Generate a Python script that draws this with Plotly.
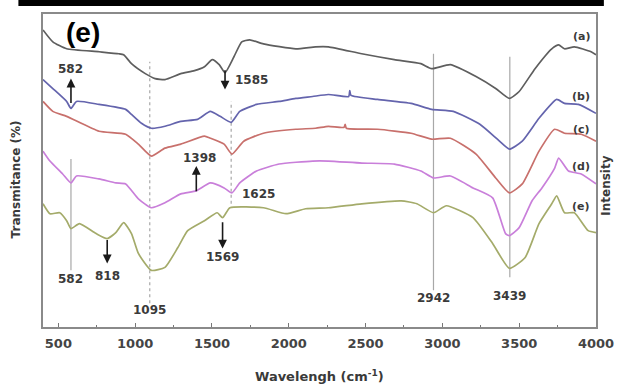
import plotly.graph_objects as go

# FTIR spectra, wavenumber (cm-1) vs. offset transmittance (a.u.)
wn_a = [400, 464, 554, 765, 893, 925, 976, 1066, 1130, 1194, 1297, 1386, 1451, 1502, 1547, 1585,
        1643, 1694, 1745, 1835, 2046, 2174, 2258, 2475, 2687, 2860, 2930, 3052, 3219, 3347, 3436,
        3500, 3603, 3712, 3757, 3795, 3859, 3968, 4000]
t_a = [299, 287, 280, 277, 275, 274, 265, 255, 250, 249, 255, 258, 262, 269, 264, 256,
       272, 287, 289, 285, 280, 282, 282, 275, 269, 265, 260, 264, 252, 240, 230,
       237, 260, 280, 284, 280, 282, 277, 274]

wn_b = [400, 464, 554, 582, 618, 765, 938, 976, 1041, 1105, 1194, 1297, 1406, 1489, 1553, 1625,
        1681, 1790, 1937, 2046, 2155, 2258, 2390, 2397, 2405, 2578, 2796, 2930, 3071, 3244, 3372,
        3436, 3520, 3629, 3744, 3795, 3885, 4000]
t_b = [249, 240, 227, 220, 227, 224, 219, 214, 205, 200, 202, 207, 209, 217, 212, 206,
       217, 224, 227, 230, 232, 234, 232, 238, 233, 229, 225, 219, 217, 204, 187,
       179, 187, 210, 229, 225, 224, 215]

wn_c = [400, 464, 554, 765, 938, 1021, 1105, 1194, 1297, 1451, 1489, 1579, 1630, 1707, 1835,
        2046, 2174, 2258, 2360, 2367, 2375, 2578, 2796, 2930, 3052, 3219, 3347, 3436, 3520,
        3629, 3731, 3795, 3904, 4000]
t_c = [227, 217, 212, 197, 194, 184, 172, 180, 184, 192, 190, 184, 174, 187, 195,
       199, 200, 202, 201, 204, 200, 199, 195, 189, 190, 174, 150, 135, 144,
       177, 199, 195, 194, 187]

wn_d = [400, 445, 528, 582, 618, 765, 874, 938, 1021, 1105, 1194, 1297, 1398, 1489, 1579, 1630,
        1681, 1790, 1937, 2155, 2258, 2475, 2687, 2860, 2942, 3052, 3199, 3327, 3411, 3436,
        3500, 3584, 3648, 3731, 3757, 3821, 3904, 4000]
t_d = [177, 167, 154, 145, 152, 149, 145, 144, 129, 120, 125, 134, 137, 145, 140, 135,
       145, 157, 164, 167, 167, 165, 164, 157, 150, 152, 140, 130, 94, 92,
       100, 127, 140, 160, 170, 157, 154, 144]

wn_e = [400, 445, 509, 554, 582, 637, 746, 818, 874, 925, 976, 1021, 1105, 1194, 1278, 1342,
        1451, 1534, 1569, 1617, 1835, 1982, 2110, 2258, 2475, 2732, 2834, 2942, 3026, 3199,
        3327, 3436, 3539, 3629, 3712, 3744, 3795, 3859, 3949, 4000]
t_e = [124, 114, 115, 107, 99, 104, 94, 89, 95, 105, 94, 74, 57, 60, 80, 97,
       107, 115, 110, 120, 120, 114, 119, 120, 124, 127, 124, 115, 122, 110,
       84, 59, 70, 104, 124, 132, 115, 115, 97, 95]

series = [
    ("(a)", wn_a, t_a, "#5e5e5e"),
    ("(b)", wn_b, t_b, "#6464ad"),
    ("(c)", wn_c, t_c, "#c8706c"),
    ("(d)", wn_d, t_d, "#c97fda"),
    ("(e)", wn_e, t_e, "#a4ab6a"),
]
# curve tags at the right end of each trace
tag_wn = [3904, 3904, 3904, 3904, 3904]
tag_t = [292, 232, 199, 162, 121]

# vertical guide lines: wavenumber, lower and upper extent, dash
guide_wn = [582, 1095, 1625, 2942, 3439]
guide_lo = [57, 24, 124, 37, 50]
guide_hi = [169, 267, 227, 275, 272]
guide_dash = ["solid", "dot", "dot", "solid", "solid"]

# band labels: text, wavenumber, position, anchor
band_text = ["582", "1095", "2942", "3439", "1625", "1585", "1398", "582", "818", "1569"]
band_wn = [582, 1095, 2942, 3439, 1681, 1636, 1418, 582, 818, 1569]
band_t = [48, 17, 29, 31, 134, 249, 170, 260, 51, 70]
band_anchor = ["center", "center", "center", "center", "left", "left", "center", "center",
               "center", "center"]

# arrows: wavenumber, tail, head
arrow_wn = [582, 1585, 1398, 818, 1569]
arrow_tail = [224, 260, 135, 89, 107]
arrow_head = [250, 239, 162, 64, 79]

fig = go.Figure()

for wn, lo, hi, dash in zip(guide_wn, guide_lo, guide_hi, guide_dash):
    fig.add_trace(go.Scatter(x=[wn, wn], y=[lo, hi], mode="lines",
                             line=dict(color="#a8a8a8", width=1.2, dash=dash),
                             hoverinfo="skip", showlegend=False))

for name, wn, t, col in series:
    fig.add_trace(go.Scatter(x=wn, y=t, mode="lines", name=name,
                             line=dict(color=col, width=1.7, shape="spline", smoothing=0.5),
                             showlegend=False))

label_font = dict(family="DejaVu Sans", size=12, color="#3a3a3a", weight="bold")

ann = []
for (name, _, _, _), x, y in zip(series, tag_wn, tag_t):
    ann.append(dict(x=x, y=y, text=name, showarrow=False, xanchor="center", yanchor="middle",
                    font=dict(family="DejaVu Sans", size=11, color="#3a3a3a", weight="bold")))

for txt, x, y, anc in zip(band_text, band_wn, band_t, band_anchor):
    ann.append(dict(x=x, y=y, text=txt, showarrow=False, xanchor=anc, yanchor="middle",
                    font=label_font))

for x, tail, head in zip(arrow_wn, arrow_tail, arrow_head):
    ann.append(dict(x=x, y=head, ax=x, ay=tail, xref="x", yref="y", axref="x", ayref="y",
                    text="", showarrow=True, arrowhead=2, arrowsize=1.1, arrowwidth=1.6,
                    arrowcolor="#1a1a1a"))

ann += [
    dict(x=(84 - 43) / 562, y=(327 - 31) / 315, xref="paper", yref="paper", text="(e)",
         showarrow=False, xanchor="center", yanchor="middle",
         font=dict(family="Liberation Sans", size=28, color="#000000", weight="bold")),
    dict(x=(16 - 43) / 562, y=(327 - 178) / 315, xref="paper", yref="paper",
         text="Transmitance (%)", textangle=-90, showarrow=False,
         xanchor="center", yanchor="middle", font=label_font),
    dict(x=(615 - 43) / 562, y=(327 - 185) / 315, xref="paper", yref="paper",
         text="Intensity", textangle=-90, showarrow=False,
         xanchor="center", yanchor="middle", font=label_font),
    dict(x=0.5, y=(327 - 376) / 315, xref="paper", yref="paper",
         text="Wavelengh (cm<sup>-1</sup>)", showarrow=False,
         xanchor="center", yanchor="middle",
         font=dict(family="DejaVu Sans", size=13, color="#3a3a3a", weight="bold")),
]

fig.update_layout(
    width=626, height=384,
    margin=dict(l=43, r=21, t=12, b=57),
    paper_bgcolor="white", plot_bgcolor="white",
    annotations=ann,
    shapes=[dict(type="rect", xref="paper", yref="paper",
                 x0=(18 - 43) / 562, x1=(613 - 43) / 562,
                 y0=(327 - 4) / 315, y1=(327 + 1) / 315 + 0.04,
                 fillcolor="#000000", line=dict(width=0), layer="above")],
    xaxis=dict(range=[400, 4000], tickvals=[500, 1000, 1500, 2000, 2500, 3000, 3500, 4000],
               ticks="inside", ticklen=4, tickwidth=1.2, tickcolor="#777",
               ticklabelstandoff=3,
               minor=dict(tickvals=[750, 1250, 1750, 2250, 2750, 3250, 3750],
                          ticks="inside", ticklen=2, tickcolor="#777"),
               showline=True, linecolor="#8a8a8a", linewidth=2, mirror=True,
               showgrid=False, zeroline=False,
               tickfont=dict(family="DejaVu Sans", size=13, color="#444", weight="bold")),
    yaxis=dict(range=[0, 315], showticklabels=False, ticks="",
               showline=True, linecolor="#8a8a8a", linewidth=2, mirror=True,
               showgrid=False, zeroline=False),
)

fig.write_html("out.html")
